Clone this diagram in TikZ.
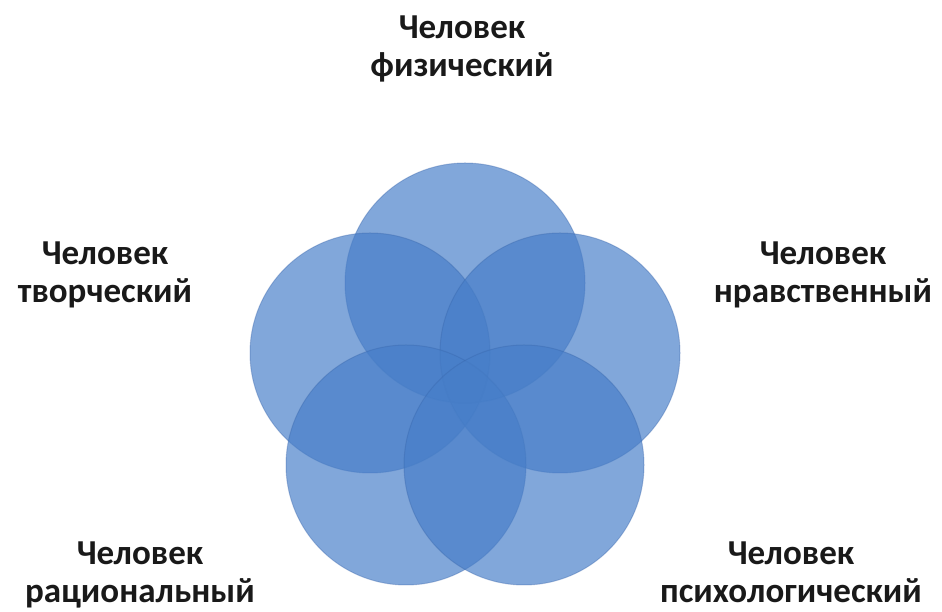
\documentclass[tikz,border=0pt]{standalone}
\usepackage{fontspec}
\setmainfont{Carlito}
\usetikzlibrary{positioning}

\definecolor{petalblue}{RGB}{70,125,200}
\definecolor{petaledge}{RGB}{55,100,170}

\tikzset{
    petal/.style={circle, minimum size=240pt, inner sep=0pt, fill=petalblue, fill opacity=0.68, draw=petaledge, draw opacity=0.35, line width=1pt},
    caption/.style={font=\fontsize{35}{37.5}\selectfont\bfseries, align=center, inner sep=0pt, text=black!90}
}

\begin{document}
\begin{tikzpicture}[x=1pt, y=1pt]
    \useasboundingbox (0,0) rectangle (942,612);

    \node[petal] (fiz) at (465,329) {};
    \node[petal] (tvor) at (370,259) {};
    \node[petal] (nrav) at (560,259) {};
    \node[petal] (rac) at (406,147) {};
    \node[petal] (psih) at (524,147) {};

    \node[caption, anchor=north] (lfiz) at (462,596) {Человек\\физический};
    \node[caption, anchor=north] (ltvor) at (105,370) {Человек\\творческий};
    \node[caption, anchor=north] (lnrav) at (823,370) {Человек\\нравственный};
    \node[caption, anchor=north] (lrac) at (140,70) {Человек\\рациональный};
    \node[caption, anchor=north] (lpsih) at (791,70) {Человек\\психологический};
\end{tikzpicture}
\end{document}
